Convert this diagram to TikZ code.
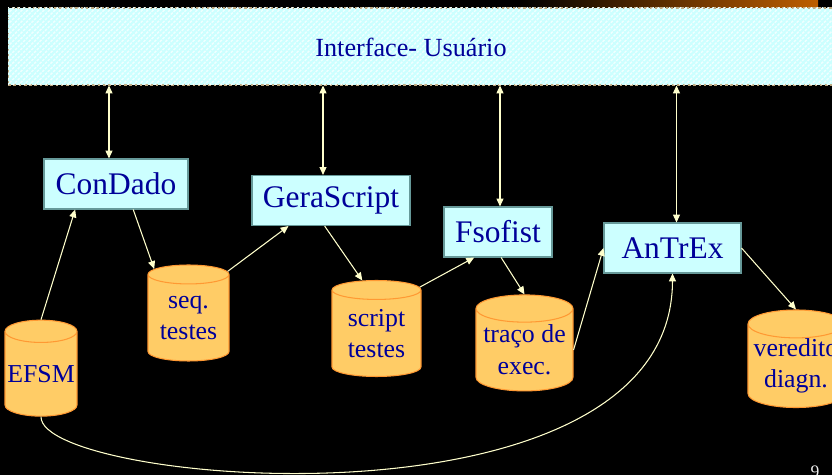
\documentclass[tikz,border=0pt]{standalone}
\usepackage{fontspec}
\setmainfont{Liberation Serif}
\usetikzlibrary{shapes.geometric,arrows.meta,patterns.meta}

\definecolor{ciano}{RGB}{204,255,255}
\definecolor{azul}{RGB}{0,0,153}
\definecolor{laranja}{RGB}{255,204,102}
\definecolor{borda}{RGB}{255,153,51}
\definecolor{amarelo}{RGB}{255,255,204}
\definecolor{cinza}{RGB}{102,153,153}
\definecolor{marrom}{RGB}{190,95,0}

\tikzset{
  ponta/.tip={Triangle[length=4.5pt,width=4pt]},
  faixa/.style={rectangle, fill=ciano, draw={rgb,255:red,190;green,170;blue,130}, dash pattern=on 1.5pt off 1.5pt, line width=0.6pt,
    postaction={pattern={Lines[angle=45,distance=2.2pt,line width=0.8pt]}, pattern color=white!70!ciano}},
  modulo/.style={rectangle, draw=cinza, fill=ciano, text=azul, line width=0.6pt, minimum height=1cm, inner sep=0pt, font=\fontsize{17.9}{20}\selectfont},
  base/.style={cylinder, shape border rotate=90, aspect=0.33, draw=borda, fill=laranja, text=azul, line width=0.6pt,
    minimum height=1.92cm, inner sep=0pt, align=center, font=\fontsize{14.7}{18}\selectfont},
  liga/.style={draw=amarelo, line width=0.6pt, -{ponta}},
  dupla/.style={draw=amarelo, line width=0.6pt, {ponta}-{ponta}},
}

\begin{document}
\begin{tikzpicture}[x=0.02cm, y=-0.02cm]
		\useasboundingbox (0,0) rectangle (832,475);
		\fill[black] (0,0) rectangle (832,475);
		\clip (0,0) rectangle (832,475);
		\shade[left color=black, right color=marrom] (520,0) rectangle (818,8);
		% Interface
		\node(interface)[faixa, minimum width=16.64cm, minimum height=1.54cm] at (424,46.5) {};
		\node(titulo)[text=azul, font=\fontsize{14.9}{18}\selectfont] at (411,47) {Interface- Usu\'ario};
		% Modulos
		\node(condado)[modulo, minimum width=2.88cm] at (116,184) {ConDado};
		\node(gerascript)[modulo, minimum width=3.16cm] at (331,200.5) {GeraScript};
		\node(fsofist)[modulo, minimum width=2.16cm] at (498,232) {Fsofist};
		\node(antrex)[modulo, minimum width=2.74cm] at (672.5,248) {AnTrEx};
		% Bases
		\node(efsm)[base, minimum width=1.44cm] at (41,374) {EFSM};
		\node(seqtestes)[base, minimum width=1.62cm] at (188.5,318) {seq.\\testes};
		\node(scripttestes)[base, minimum width=1.78cm] at (376.5,333.5) {script\\testes};
		\node(traco)[base, minimum width=1.94cm] at (524.5,350) {tra\c{c}o de\\exec.};
		\node(veredito)[base, minimum width=1.92cm] at (796,366) {veredito\\diagn.};
		% Interface <-> modulos
		\draw[dupla] ([xshift=-0.14cm]condado.north) -- ([xshift=-0.14cm]condado.north |- interface.south);
		\draw[dupla] ([xshift=-0.16cm]gerascript.north) -- ([xshift=-0.16cm]gerascript.north |- interface.south);
		\draw[dupla] ([xshift=0.04cm]fsofist.north) -- ([xshift=0.04cm]fsofist.north |- interface.south);
		\draw[dupla] ([xshift=0.08cm]antrex.north) -- ([xshift=0.08cm]antrex.north |- interface.south);
		% Fluxo
		\draw[liga] (efsm.north) -- (condado.212);
		\draw[liga] (condado.-56) -- (seqtestes.125);
		\draw[liga] (seqtestes.50) -- (gerascript.211);
		\draw[liga] (gerascript.256) -- (scripttestes.105);
		\draw[liga] (scripttestes.47) -- (fsofist.227);
		\draw[liga] (fsofist.-83) -- (traco.90);
		\draw[liga] (traco.0) -- (antrex.west);
		\draw[liga] (antrex.east) -- (veredito.90);
		\draw[liga] (efsm.south) .. controls (40,485) and (672,540) .. (antrex.south);
		\node(pagina)[text=white!85!gray, inner sep=0pt, anchor=north, font=\fontsize{10}{10}\selectfont] at (815,466) {9};
	\end{tikzpicture}
\end{document}
